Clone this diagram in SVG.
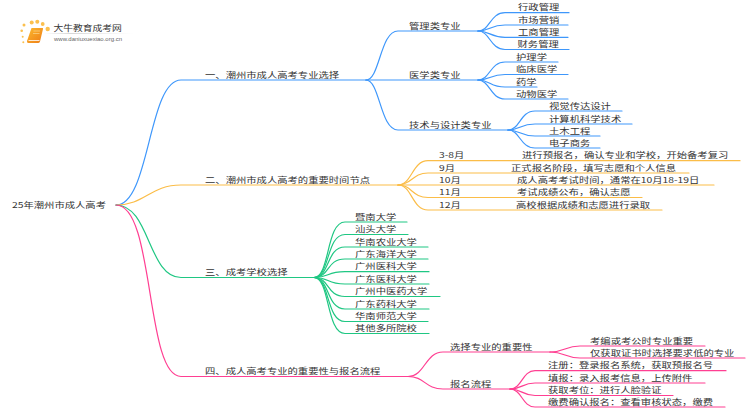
<svg xmlns="http://www.w3.org/2000/svg" width="750" height="410" viewBox="0 0 750 410">
<defs>
<linearGradient id="rule" x1="0" x2="1" y1="0" y2="0"><stop offset="0" stop-color="#ccc" stop-opacity="0"/><stop offset=".3" stop-color="#ccc"/><stop offset="1" stop-color="#ddd" stop-opacity="0"/></linearGradient>
<linearGradient id="book" x1="0" x2="1" y1="0" y2="1"><stop offset="0" stop-color="#fcb92f"/><stop offset="1" stop-color="#ee7d16"/></linearGradient>
</defs>
<style>
text{font-family:"Noto Sans CJK SC","Liberation Sans",sans-serif;font-size:8.2px;fill:#333}
.c{fill:none;stroke-width:1.2;stroke-linecap:round}
.b{stroke:#3e97fb}.o{stroke:#fbbd48}.g{stroke:#1fc783}.p{stroke:#ff3f92}
.d{fill:#fbc04e}
</style>
<rect width="750" height="410" fill="#fff"/>
<g id="logo">
<circle class="d" cx="21.700" cy="30.700" r="1.300"/><circle class="d" cx="22.700" cy="36.700" r="1"/><circle class="d" cx="23.300" cy="42.300" r="1"/><circle class="d" cx="24" cy="25" r="1.500"/><circle class="d" cx="31.700" cy="22.500" r="2"/><circle class="d" cx="37.300" cy="21.700" r="2"/><circle class="d" cx="42.700" cy="24" r="1.900"/><circle class="d" cx="47.700" cy="29" r="2.200"/>
<path d="M31.500 28H42.500Q43.300 28 43 29L40 41.500Q39.500 43 38 43H28.500Q26.500 43 27 41z" fill="url(#book)"/>
<path d="M28.500 40.500H39.500" stroke="#fff" stroke-width=".8" fill="none"/>
<path d="M33.500 31H40M33 33.500H39.500" stroke="#fde0a0" stroke-width=".6" fill="none"/>
<text transform="matrix(1.150 0 0 1 53.500 30.500)" style="font-size:8.500px">大牛教育成考网</text>
<rect x="44" y="33" width="90" height=".8" fill="url(#rule)"/>
<text x="54" y="41" style="font-size:6px;font-family:'Liberation Sans',sans-serif;fill:#666">www.daniuxuexiao.org.cn</text>
</g>
<g id="connectors">
<path class="c b" d="M116 205C150 205 148 80 181 80H366"/>
<path class="c b" d="M366 80C380 80 380 31 398 31H478"/>
<path class="c b" d="M366 80H478"/>
<path class="c b" d="M366 80C380 80 380 130 398 130H508"/>
<path class="c b" d="M478 31C490 31 490 12.700 505 12.700H569"/>
<path class="c b" d="M478 31C490 31 490 25 505 25H568"/>
<path class="c b" d="M478 31C490 31 490 37.300 505 37.300H568"/>
<path class="c b" d="M478 31C490 31 490 49.500 505 49.500H569"/>
<path class="c b" d="M478 80C490 80 490 62 505 62H558"/>
<path class="c b" d="M478 80C490 80 490 74.500 505 74.500H568"/>
<path class="c b" d="M478 80C490 80 490 87 505 87H537"/>
<path class="c b" d="M478 80C490 80 490 99 505 99H568"/>
<path class="c b" d="M508 130C520 130 520 111 535 111H622"/>
<path class="c b" d="M508 130C520 130 520 124 535 124H632"/>
<path class="c b" d="M508 130C520 130 520 136 535 136H600"/>
<path class="c b" d="M508 130C520 130 520 148 535 148H600"/>
<path class="c o" d="M116 205C145 205 150 185 181 185H398"/>
<path class="c o" d="M398 185C412 185 412 160.700 428 160.700H740"/>
<path class="c o" d="M398 185C412 185 412 173 428 173H689"/>
<path class="c o" d="M398 185H714"/>
<path class="c o" d="M398 185C412 185 412 197.500 428 197.500H642"/>
<path class="c o" d="M398 185C412 185 412 210 428 210H662"/>
<path class="c g" d="M116 205C150 205 148 277.500 181 277.500H314"/>
<path class="c g" d="M314 277.500C330 277.500 326 222 345 222H407"/>
<path class="c g" d="M314 277.500C330 277.500 326 234.500 345 234.500H408"/>
<path class="c g" d="M314 277.500C330 277.500 326 247 345 247H428"/>
<path class="c g" d="M314 277.500C330 277.500 326 259 345 259H428"/>
<path class="c g" d="M314 277.500C330 277.500 326 271.700 345 271.700H429"/>
<path class="c g" d="M314 277.500C330 277.500 326 284 345 284H429"/>
<path class="c g" d="M314 277.500C330 277.500 326 296.500 345 296.500H440"/>
<path class="c g" d="M314 277.500C330 277.500 326 309 345 309H429"/>
<path class="c g" d="M314 277.500C330 277.500 326 321.500 345 321.500H428"/>
<path class="c g" d="M314 277.500C330 277.500 326 333.500 345 333.500H429"/>
<path class="c p" d="M116 205C155 205 145 376.500 181 376.500H408"/>
<path class="c p" d="M408 376.500C425 376.500 425 352 443 352H550"/>
<path class="c p" d="M408 376.500C425 376.500 425 389 443 389H510"/>
<path class="c p" d="M550 352C565 352 565 346 580 346H705"/>
<path class="c p" d="M550 352C565 352 565 358 580 358H745"/>
<path class="c p" d="M510 389C522 389 522 370.700 535 370.700H726"/>
<path class="c p" d="M510 389C522 389 522 383 535 383H705"/>
<path class="c p" d="M510 389C522 389 522 395.500 535 395.500H673"/>
<path class="c p" d="M510 389C522 389 522 407 535 407H725"/>
</g>
<g id="root"><text transform="matrix(1.260 0 0 1 12 207.500)">25年潮州市成人高考</text></g>
<g id="n1"><text transform="matrix(1.260 0 0 1 205 77.800)">一、潮州市成人高考专业选择</text></g>
<g id="n1-1"><text transform="matrix(1.260 0 0 1 409 28.800)">管理类专业</text></g>
<g id="n1-1-1"><text transform="matrix(1.260 0 0 1 518 10.400)">行政管理</text></g>
<g id="n1-1-2"><text transform="matrix(1.260 0 0 1 518 22.700)">市场营销</text></g>
<g id="n1-1-3"><text transform="matrix(1.260 0 0 1 518 35)">工商管理</text></g>
<g id="n1-1-4"><text transform="matrix(1.260 0 0 1 517.500 47.200)">财务管理</text></g>
<g id="n1-2"><text transform="matrix(1.260 0 0 1 409 77.800)">医学类专业</text></g>
<g id="n1-2-1"><text transform="matrix(1.260 0 0 1 516 59.700)">护理学</text></g>
<g id="n1-2-2"><text transform="matrix(1.260 0 0 1 516 72.200)">临床医学</text></g>
<g id="n1-2-3"><text transform="matrix(1.260 0 0 1 516 84.700)">药学</text></g>
<g id="n1-2-4"><text transform="matrix(1.260 0 0 1 516 96.700)">动物医学</text></g>
<g id="n1-3"><text transform="matrix(1.260 0 0 1 409 127.800)">技术与设计类专业</text></g>
<g id="n1-3-1"><text transform="matrix(1.260 0 0 1 549 108.700)">视觉传达设计</text></g>
<g id="n1-3-2"><text transform="matrix(1.260 0 0 1 549 121.700)">计算机科学技术</text></g>
<g id="n1-3-3"><text transform="matrix(1.260 0 0 1 549 133.700)">土木工程</text></g>
<g id="n1-3-4"><text transform="matrix(1.260 0 0 1 549 145.700)">电子商务</text></g>
<g id="n2"><text transform="matrix(1.260 0 0 1 205 182.800)">二、潮州市成人高考的重要时间节点</text></g>
<g id="n2-1"><text transform="matrix(1.260 0 0 1 439 158.400)">3-8月</text><text transform="matrix(1.260 0 0 1 522 158.400)">进行预报名，确认专业和学校，开始备考复习</text></g>
<g id="n2-2"><text transform="matrix(1.260 0 0 1 439 170.700)">9月</text><text transform="matrix(1.260 0 0 1 511 170.700)">正式报名阶段，填写志愿和个人信息</text></g>
<g id="n2-3"><text transform="matrix(1.260 0 0 1 439 182.800)">10月</text><text transform="matrix(1.260 0 0 1 517 182.800)">成人高考考试时间，通常在10月18-19日</text></g>
<g id="n2-4"><text transform="matrix(1.260 0 0 1 439 195.200)">11月</text><text transform="matrix(1.260 0 0 1 517 195.200)">考试成绩公布，确认志愿</text></g>
<g id="n2-5"><text transform="matrix(1.260 0 0 1 439 207.700)">12月</text><text transform="matrix(1.260 0 0 1 516 207.700)">高校根据成绩和志愿进行录取</text></g>
<g id="n3"><text transform="matrix(1.260 0 0 1 205 275.300)">三、成考学校选择</text></g>
<g id="n3-1"><text transform="matrix(1.260 0 0 1 355 219.700)">暨南大学</text></g>
<g id="n3-2"><text transform="matrix(1.260 0 0 1 355 232.200)">汕头大学</text></g>
<g id="n3-3"><text transform="matrix(1.260 0 0 1 355 244.700)">华南农业大学</text></g>
<g id="n3-4"><text transform="matrix(1.260 0 0 1 355 256.700)">广东海洋大学</text></g>
<g id="n3-5"><text transform="matrix(1.260 0 0 1 355 269.400)">广州医科大学</text></g>
<g id="n3-6"><text transform="matrix(1.260 0 0 1 355 281.700)">广东医科大学</text></g>
<g id="n3-7"><text transform="matrix(1.260 0 0 1 355 294.200)">广州中医药大学</text></g>
<g id="n3-8"><text transform="matrix(1.260 0 0 1 355 306.700)">广东药科大学</text></g>
<g id="n3-9"><text transform="matrix(1.260 0 0 1 355 319.200)">华南师范大学</text></g>
<g id="n3-10"><text transform="matrix(1.260 0 0 1 355 331.200)">其他多所院校</text></g>
<g id="n4"><text transform="matrix(1.260 0 0 1 205 374.200)">四、成人高考专业的重要性与报名流程</text></g>
<g id="n4-1"><text transform="matrix(1.260 0 0 1 450 349.700)">选择专业的重要性</text></g>
<g id="n4-1-1"><text transform="matrix(1.260 0 0 1 590 343.700)">考编或考公时专业重要</text></g>
<g id="n4-1-2"><text transform="matrix(1.260 0 0 1 590 355.700)">仅获取证书时选择要求低的专业</text></g>
<g id="n4-2"><text transform="matrix(1.260 0 0 1 450 386.700)">报名流程</text></g>
<g id="n4-2-1"><text transform="matrix(1.260 0 0 1 548 368.400)">注册：登录报名系统，获取预报名号</text></g>
<g id="n4-2-2"><text transform="matrix(1.260 0 0 1 548 380.700)">填报：录入报考信息，上传附件</text></g>
<g id="n4-2-3"><text transform="matrix(1.260 0 0 1 548 393.200)">获取考位：进行人脸验证</text></g>
<g id="n4-2-4"><text transform="matrix(1.260 0 0 1 548 404.700)">缴费确认报名：查看审核状态，缴费</text></g>
</svg>
